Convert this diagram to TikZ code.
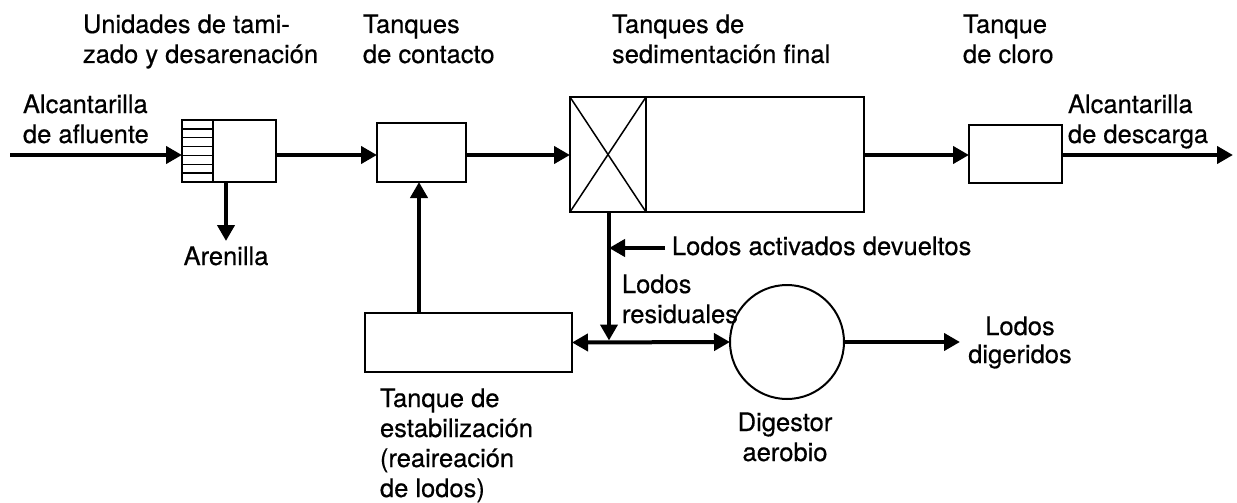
\documentclass[tikz,border=0pt]{standalone}
\usepackage{fontspec}
\setmainfont{TeX Gyre Heros}[FakeBold=0.5]
\usetikzlibrary{arrows.meta,calc}
\begin{document}
\begin{tikzpicture}[x=1pt,y=-1pt,
  box/.style={draw,line width=2pt,rectangle,inner sep=0pt,outer sep=0pt},
  flow/.style={line width=4pt,-{Triangle[length=16pt,width=17pt]}},
  flow2/.style={line width=4pt,{Triangle[length=16pt,width=17pt]}-{Triangle[length=16pt,width=17pt]}},
  lbl/.style={inner sep=0pt,outer sep=0pt,align=left,anchor=base west,font=\fontsize{25.5}{30}\selectfont},
  clbl/.style={inner sep=0pt,outer sep=0pt,align=center,anchor=base,font=\fontsize{25.5}{30}\selectfont}]
\useasboundingbox (0,0) rectangle (1237,503);
\coordinate (m) at (0,155);
% boxes
\node[box,minimum width=94pt,minimum height=62pt] (screen) at (229,151) {};
\node[box,minimum width=89pt,minimum height=59pt] (contact) at (421.5,152.5) {};
\node[box,minimum width=294pt,minimum height=115pt] (sed) at (717,154.5) {};
\node[box,minimum width=93pt,minimum height=58pt] (cl) at (1015.5,154) {};
\node[box,minimum width=207pt,minimum height=59pt] (stab) at (468.5,342.5) {};
\node[draw,line width=2pt,circle,minimum size=114pt,inner sep=0pt,outer sep=0pt] (dig) at (787,342) {};
% screen details
\draw[line width=2pt] ([xshift=31pt]screen.north west) -- ([xshift=31pt]screen.south west);
\foreach \k in {1,...,6}{
  \draw[line width=1.5pt] ([yshift=-\k*62/7]screen.north west) -- ([xshift=31pt,yshift=-\k*62/7]screen.north west);
}
% sedimentation details
\draw[line width=2pt] ([xshift=76pt]sed.north west) -- ([xshift=76pt]sed.south west);
\draw[line width=1.5pt] (sed.north west) -- ([xshift=76pt]sed.south west);
\draw[line width=1.5pt] (sed.south west) -- ([xshift=76pt]sed.north west);
% coordinates
\coordinate (in) at (10,155);
\coordinate (out) at (1233,155);
\coordinate (aren) at (226,241);
\coordinate (sedout) at (609,212);
\coordinate (ret) at (665,248);
\coordinate (digout) at (960,342);
% arrows
\draw[flow] (in) -- (screen.west |- m);
\draw[flow] (screen.east |- m) -- (contact.west |- m);
\draw[flow] (contact.east |- m) -- (sed.west |- m);
\draw[flow] (sed.east |- m) -- (cl.west |- m);
\draw[flow] (cl.east |- m) -- (out);
\draw[flow] (aren |- screen.south) -- (aren);
\draw[flow] ([xshift=-49.5pt]stab.north) -- ([xshift=-2.5pt]contact.south);
\draw[flow] (sedout) -- ($(sedout |- stab.east)+(0,-2)$);
\draw[flow] (ret) -- (sedout |- ret);
\draw[flow2] (stab.east) -- (dig.west);
\draw[flow] (dig.east) -- (digout);
% labels (base = baseline of last line)
\node[lbl] (t1) at (83,63) {Unidades de tami-\\zado y desarenación};
\node[lbl] (t2) at (363,63) {Tanques\\de contacto};
\node[lbl] (t3) at (612,63) {Tanques de\\sedimentación final};
\node[lbl] (t4) at (963,63) {Tanque\\de cloro};
\node[lbl] (t5) at (23,143) {Alcantarilla\\de afluente};
\node[lbl] (t6) at (1068,143) {Alcantarilla\\de descarga};
\node[clbl] (t7) at (226,265) {Arenilla};
\node[lbl] (t8) at (672,255) {Lodos activados devueltos};
\node[lbl] (t9) at (622,323) {Lodos\\residuales};
\node[clbl,font=\fontsize{25.5}{28}\selectfont] (t10) at (1020,363) {Lodos\\digeridos};
\node[lbl] (t11) at (380,497) {Tanque de\\estabilización\\(reaireación\\de lodos)};
\node[clbl] (t12) at (785,461) {Digestor\\aerobio};
\end{tikzpicture}
\end{document}
